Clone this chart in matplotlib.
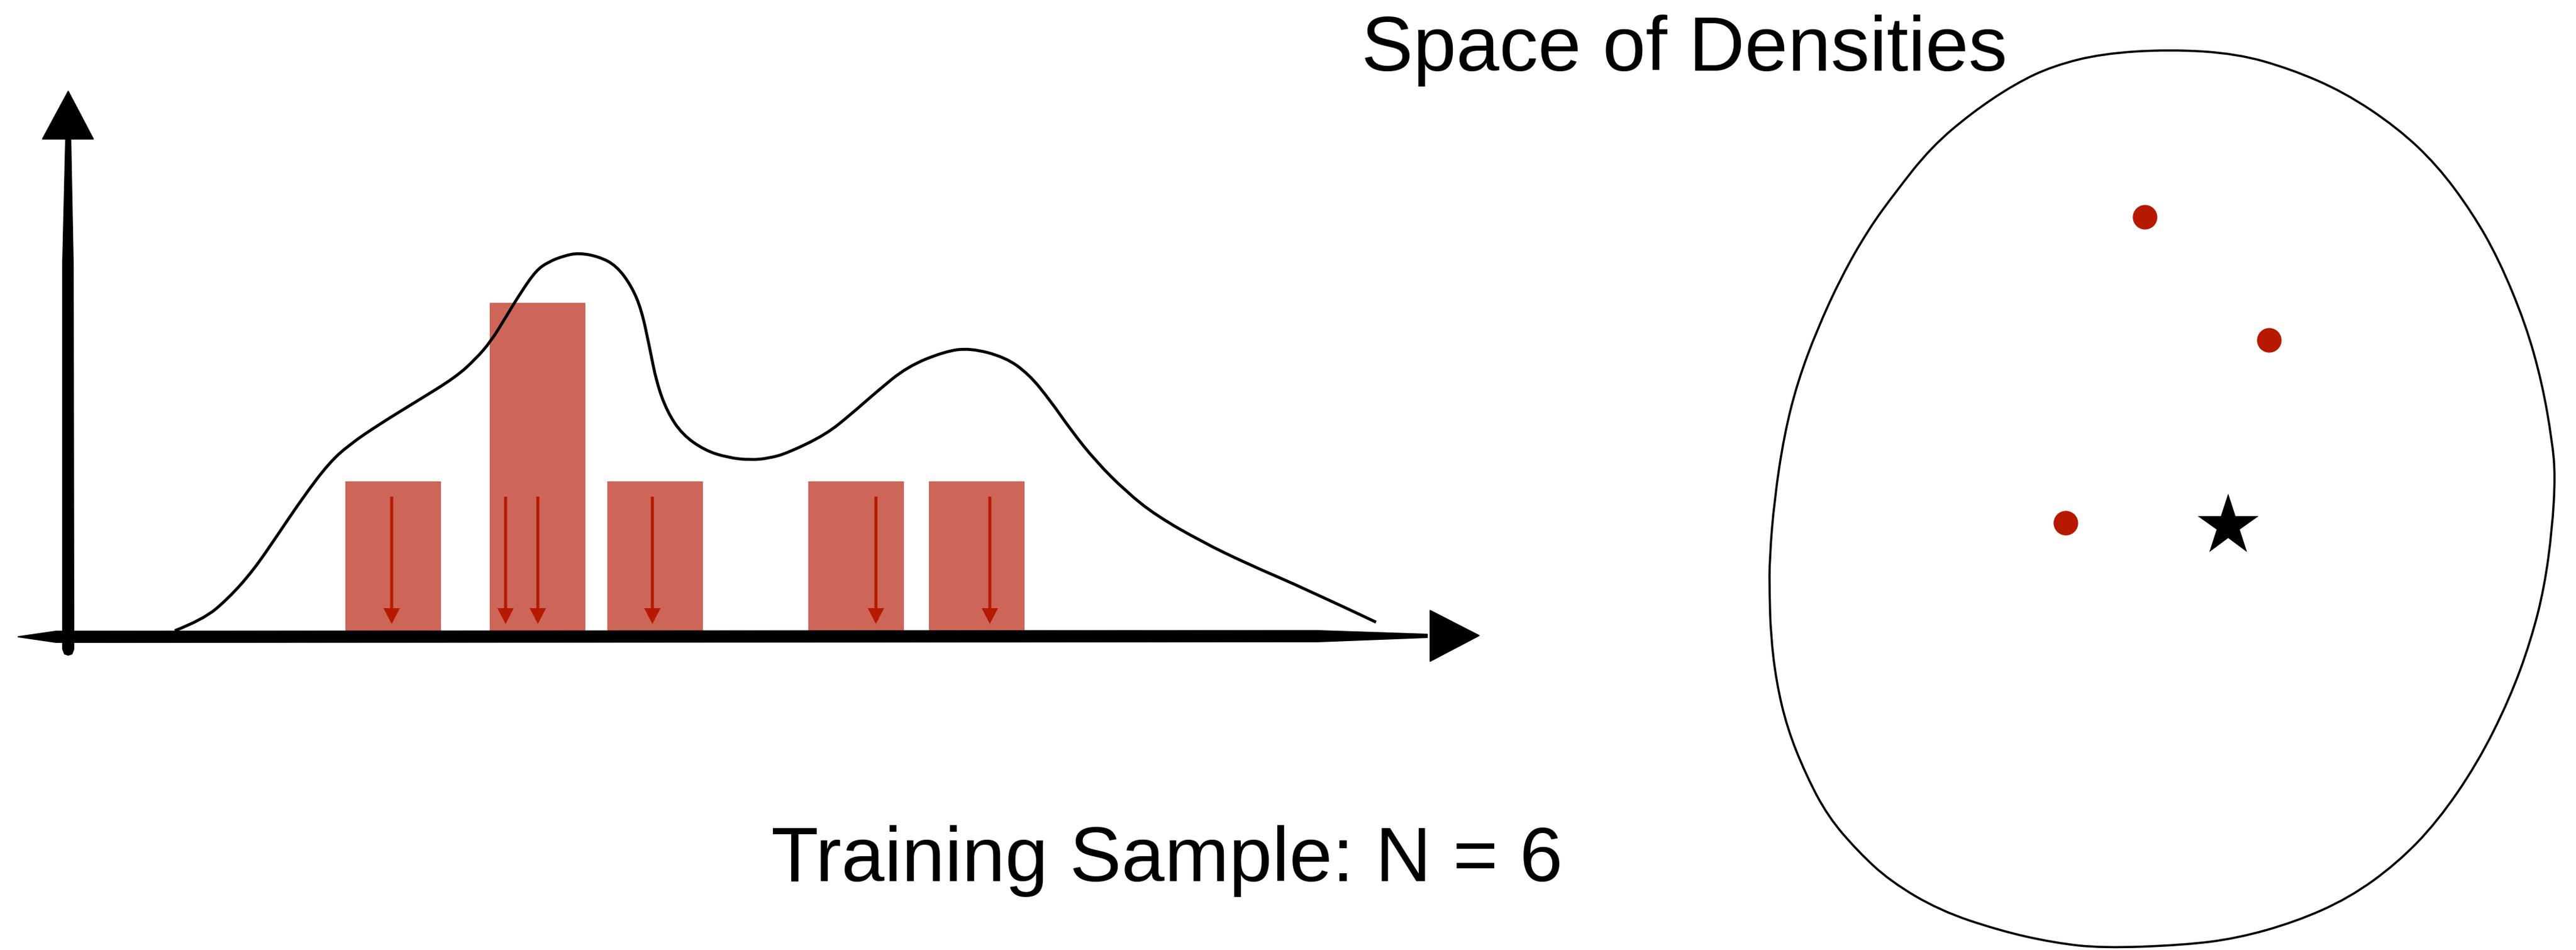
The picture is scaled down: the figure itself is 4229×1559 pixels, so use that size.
import numpy as np
import matplotlib
matplotlib.use('Agg')
import matplotlib.pyplot as plt
from matplotlib.patches import Polygon, PathPatch
from matplotlib.path import Path

plt.rcParams['font.family'] = ['Liberation Sans', 'DejaVu Sans']

# density curve over the sample axis
curve_x = [1.75, 2.21, 2.62, 3.04, 3.45, 3.87, 4.28, 4.61, 5.11, 5.73, 6.36, 6.69,
           6.94, 7.18, 7.43, 7.68, 7.88, 8.13, 8.38, 8.71, 9.00, 9.25, 9.41, 9.54,
           9.66, 9.83, 10.08, 10.45, 10.83, 11.20, 11.51, 11.82, 12.44, 12.86, 13.27,
           13.77, 14.38, 14.80, 15.38, 15.77, 16.12, 16.47, 16.87, 17.37, 17.86,
           18.61, 19.35, 20.35, 21.47]
curve_y = [0.00, 0.18, 0.52, 0.99, 1.59, 2.21, 2.75, 3.05, 3.39, 3.77, 4.16, 4.46,
           4.75, 5.14, 5.55, 5.91, 6.05, 6.15, 6.20, 6.14, 5.99, 5.65, 5.27, 4.67,
           4.07, 3.60, 3.22, 2.96, 2.84, 2.80, 2.83, 2.92, 3.22, 3.56, 3.92,
           4.33, 4.58, 4.64, 4.49, 4.21, 3.78, 3.28, 2.78, 2.28, 1.89,
           1.46, 1.10, 0.67, 0.14]

# histogram-style blocks and the six training samples
bar_x = [5.335, 7.705, 9.635, 12.935, 14.915]
bar_h = [2.45, 5.38, 2.45, 2.45, 2.45]
bar_w = 1.57
sample_x = [5.31, 7.18, 7.71, 9.59, 13.26, 15.13]
arrow_top, arrow_tip = 2.20, 0.11

# right panel: outline of the density space, fitted densities and the truth
blob_x = [10.62, 11.72, 12.60, 13.48, 14.35, 15.01, 15.58, 16.02, 16.46, 16.73,
          16.90, 16.95, 16.90, 16.77, 16.55, 16.20, 15.67, 15.01, 14.35, 13.56,
          12.68, 11.72, 10.84, 9.51, 8.71, 7.82, 6.84, 6.03, 5.50, 5.01, 4.65,
          4.34, 4.16, 4.07, 4.05, 4.05, 4.13, 4.29, 4.51, 4.83, 5.23, 5.67, 6.12,
          6.70, 7.37, 8.09, 8.71, 9.51]
blob_y = [14.78, 14.71, 14.46, 14.08, 13.50, 12.88, 12.11, 11.34, 10.28, 9.32,
          8.35, 7.78, 6.91, 5.95, 5.08, 4.12, 3.06, 2.10, 1.42, 0.85,
          0.46, 0.19, 0.08, 0.03, 0.12, 0.32, 0.65, 1.13, 1.62, 2.19, 2.87,
          3.64, 4.41, 5.18, 5.85, 6.43, 7.39, 8.45, 9.32, 10.18, 11.05, 11.82, 12.44,
          13.17, 13.74, 14.22, 14.51, 14.71]
fit_x = [10.21, 12.25, 8.91]
fit_y = [12.03, 10.01, 7.01]
true_x, true_y = 11.58, 6.96

bar_color = '#CD6659'
red = '#B71900'


def smooth_path(xs, ys, closed=False):
    """Quadratic-spline path that uses the given points as control points."""
    p = np.column_stack([xs, ys])
    if closed:
        p = np.vstack([p, p[:2]])
        verts = [(p[0] + p[1]) / 2]
        codes = [Path.MOVETO]
        for i in range(1, len(p) - 1):
            verts += [p[i], (p[i] + p[i + 1]) / 2]
            codes += [Path.CURVE3, Path.CURVE3]
        return Path(verts, codes)
    verts = [p[0]]
    codes = [Path.MOVETO]
    for i in range(1, len(p) - 1):
        end = p[i + 1] if i == len(p) - 2 else (p[i] + p[i + 1]) / 2
        verts += [p[i], end]
        codes += [Path.CURVE3, Path.CURVE3]
    return Path(verts, codes)


W, H = 4229, 1559
fig = plt.figure(figsize=(W / 100, H / 100), dpi=100)

# ---- left panel ----
ax = fig.add_axes([0, 0, 2500 / W, 1])
ax.set_xlim(-1.12, 23.88)
ax.set_ylim(-5.24, 10.35)
ax.axis('off')

ax.bar(bar_x, bar_h, width=bar_w, color=bar_color, zorder=1)
ax.add_patch(PathPatch(smooth_path(curve_x, curve_y), fill=False,
                       edgecolor='black', lw=3.5, capstyle='butt', zorder=2))
for sx in sample_x:
    ax.arrow(sx, arrow_top, 0, arrow_tip - arrow_top, width=0.05,
             head_width=0.27, head_length=0.26, length_includes_head=True,
             color=red, lw=0, zorder=3)

# sketchy brush-stroke axes
x_axis = [(-0.82, -0.10), (-0.2, -0.01), (20.5, 0.0), (22.31, -0.06),
          (22.31, -0.11), (20.5, -0.18), (-0.2, -0.19)]
y_axis = [(-0.09, -0.30), (-0.06, -0.38), (0.0, -0.40), (0.06, -0.38),
          (0.09, -0.30), (0.08, 6.0), (0.04, 8.07), (-0.04, 8.07), (-0.09, 6.0)]
y_head = [(-0.42, 8.07), (0.41, 8.07), (0.0, 8.85)]
x_head = [(22.36, 0.33), (22.36, -0.50), (23.16, -0.08)]
for shape in (x_axis, y_axis, y_head, x_head):
    ax.add_patch(Polygon(shape, closed=True, facecolor='black',
                         edgecolor='black', lw=1.5, joinstyle='round',
                         zorder=4))

# ---- right panel ----
ax2 = fig.add_axes([2500 / W, 0, 1729 / W, 1])
ax2.set_xlim(0, 17.29)
ax2.set_ylim(0, 15.59)
ax2.axis('off')

ax2.add_patch(PathPatch(smooth_path(blob_x, blob_y, closed=True), fill=False,
                        edgecolor='black', lw=2.6, clip_on=False))
ax2.plot(fit_x, fit_y, 'o', color=red, markersize=29, markeredgewidth=0)
ax2.plot([true_x], [true_y], '*', color='black', markersize=76,
         markeredgewidth=0)

fig.text(2235 / W, 1 - 116 / H, 'Space of Densities', fontsize=91.5,
         ha='left', va='baseline')
fig.text(1266 / W, 1 - 1446 / H, 'Training Sample: N = 6', fontsize=91.5,
         ha='left', va='baseline')

fig.savefig('out.png', dpi=100, facecolor='white')
